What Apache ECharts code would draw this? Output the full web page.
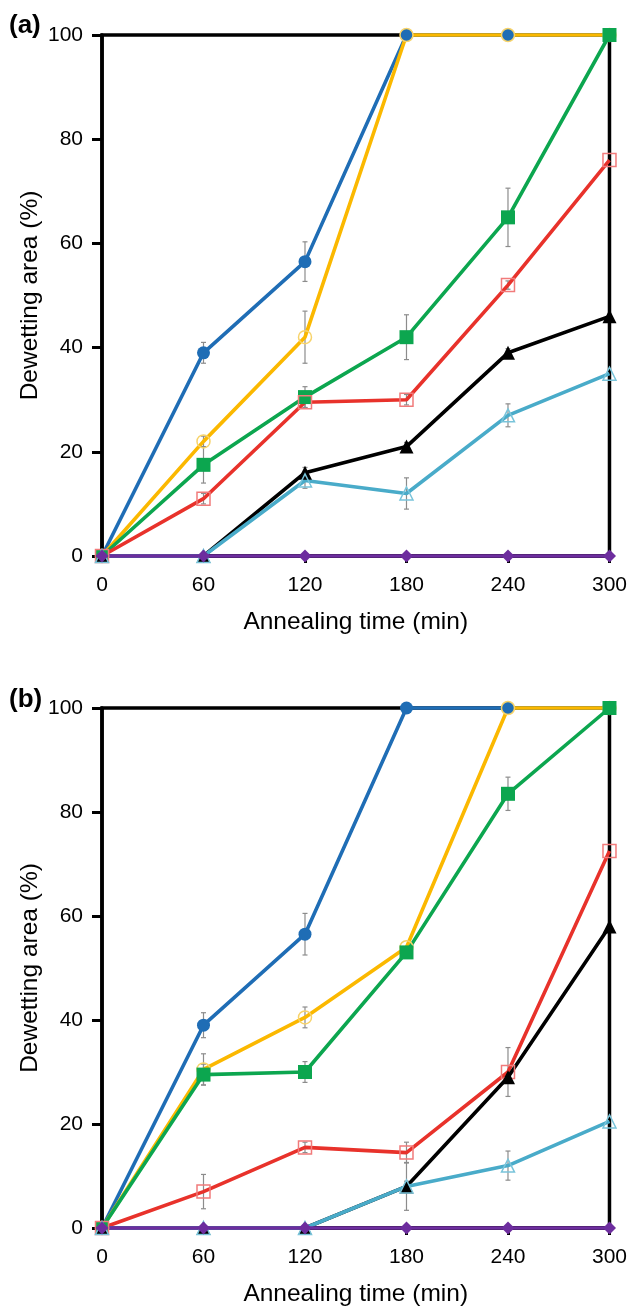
<!DOCTYPE html>
<html>
<head>
<meta charset="utf-8">
<script src="https://cdn.jsdelivr.net/npm/echarts@6/dist/echarts.min.js"></script>
<style>
  html, body { margin: 0; padding: 0; background: #ffffff; }
  #chart { width: 630px; height: 1309px; }
</style>
</head>
<body>
<div id="chart"></div>
<script>
// Annealing times (min)
const times = [0, 60, 120, 180, 240, 300];
const yTicks = [0, 20, 40, 60, 80, 100];

// Panel (a): dewetting area (%)
const aBlue   = [0, 39, 56.5, 100, 100, 100];
const aYellow = [0, 22, 42, 100, 100, 100];
const aGreen  = [0, 17.5, 30.5, 42, 65, 100];
const aRed    = [0, 11, 29.5, 30, 52, 76];
const aBlack  = [0, 0, 16, 21, 39, 46];
const aCyan   = [0, 0, 14.5, 12, 27, 35];
const aPurple = [0, 0, 0, 0, 0, 0];

// Panel (a): error bar half-lengths
const aBlueErr   = [0, 2, 3.8, 0, 0, 0];
const aYellowErr = [0, 1, 5, 0, 0, 0];
const aGreenErr  = [0, 3.5, 2, 4.3, 5.6, 0];
const aRedErr    = [0, 1, 1, 1, 0.8, 0];
const aBlackErr  = [0, 0, 1, 0.8, 0.8, 0];
const aCyanErr   = [0, 0, 1.5, 3, 2.2, 0];

// Panel (b): dewetting area (%)
const bBlue   = [0, 39, 56.5, 100, 100, 100];
const bYellow = [0, 30.5, 40.5, 54, 100, 100];
const bGreen  = [0, 29.5, 30, 53, 83.5, 100];
const bRed    = [0, 7, 15.5, 14.5, 30, 72.5];
const bBlack  = [0, 0, 0, 8, 29, 58];
const bCyan   = [0, 0, 0, 8, 12, 20.5];
const bPurple = [0, 0, 0, 0, 0, 0];

// Panel (b): error bar half-lengths
const bBlueErr   = [0, 2.4, 4, 0, 0, 0];
const bYellowErr = [0, 3, 2, 0, 0, 0];
const bGreenErr  = [0, 2, 2, 0, 3.2, 0];
const bRedErr    = [0, 3.3, 1, 2, 4.7, 0];
const bBlackErr  = [0, 0, 0, 4.6, 0, 0];
const bCyanErr   = [0, 0, 0, 1, 2.8, 0];

const FONT = 'Liberation Sans, Arial, Helvetica, sans-serif';

const styles = [
  { name: 'blue',   line: '#1f6db5', symbol: 'circle',   size: 13, fill: '#1f6db5', border: '#1f6db5', bw: 0 },
  { name: 'yellow', line: '#fbb800', symbol: 'circle',   size: 13, fill: 'rgba(255,255,255,0)', border: '#f7d36a', bw: 1.5 },
  { name: 'green',  line: '#0ca64f', symbol: 'rect',     size: 14, fill: '#0ca64f', border: '#0ca64f', bw: 0 },
  { name: 'red',    line: '#e8322b', symbol: 'rect',     size: 13, fill: 'rgba(255,255,255,0)', border: '#f17b7b', bw: 1.5 },
  { name: 'black',  line: '#000000', symbol: 'triangle', size: 14, fill: '#000000', border: '#000000', bw: 0 },
  { name: 'cyan',   line: '#49abc9', symbol: 'triangle', size: 13, fill: 'rgba(255,255,255,0)', border: '#79c4da', bw: 1.5 },
  { name: 'purple', line: '#6d2d9e', symbol: 'diamond',  size: 13, fill: '#6d2d9e', border: '#6d2d9e', bw: 0 }
];

const panelA = [aBlue, aYellow, aGreen, aRed, aBlack, aCyan, aPurple];
const panelAErr = [aBlueErr, aYellowErr, aGreenErr, aRedErr, aBlackErr, aCyanErr];
const panelB = [bBlue, bYellow, bGreen, bRed, bBlack, bCyan, bPurple];
const panelBErr = [bBlueErr, bYellowErr, bGreenErr, bRedErr, bBlackErr, bCyanErr];

function lineSeries(values, st, idx) {
  return {
    type: 'line',
    xAxisIndex: idx,
    yAxisIndex: idx,
    data: times.map((t, i) => [t, values[i]]),
    symbol: st.symbol,
    symbolSize: st.size,
    clip: false,
    z: 3,
    lineStyle: { color: st.line, width: 3.6 },
    itemStyle: { color: st.fill, borderColor: st.border, borderWidth: st.bw },
    emphasis: { disabled: true },
    animation: false
  };
}

function errorSeries(valueSets, errSets, idx) {
  const data = [];
  valueSets.forEach((vals, s) => {
    errSets[s].forEach((e, i) => {
      if (e > 0) data.push([times[i], vals[i], e]);
    });
  });
  return {
    type: 'custom',
    xAxisIndex: idx,
    yAxisIndex: idx,
    z: 2,
    clip: false,
    animation: false,
    data: data,
    renderItem: function (params, api) {
      const x = api.value(0), y = api.value(1), e = api.value(2);
      const top = api.coord([x, y + e]);
      const bot = api.coord([x, y - e]);
      const cw = 2.5;
      const st = { stroke: '#8c8c8c', lineWidth: 1.2 };
      return {
        type: 'group',
        children: [
          { type: 'line', shape: { x1: top[0], y1: top[1], x2: bot[0], y2: bot[1] }, style: st },
          { type: 'line', shape: { x1: top[0] - cw, y1: top[1], x2: top[0] + cw, y2: top[1] }, style: st },
          { type: 'line', shape: { x1: bot[0] - cw, y1: bot[1], x2: bot[0] + cw, y2: bot[1] }, style: st }
        ]
      };
    }
  };
}

function xAxisFor(idx) {
  return {
    type: 'value', gridIndex: idx, min: times[0], max: times[times.length - 1], interval: 60,
    axisLine: { show: true, lineStyle: { color: '#000', width: 3.5 } },
    axisTick: { show: true, length: 7, lineStyle: { color: '#000', width: 3 } },
    axisLabel: { color: '#000', fontSize: 21, fontFamily: FONT, margin: 19 },
    splitLine: { show: false },
    name: 'Annealing time (min)', nameLocation: 'middle', nameGap: 54, nameMoveOverlap: false,
    nameTextStyle: { color: '#000', fontSize: 24.5, fontFamily: FONT }
  };
}

function yAxisFor(idx) {
  return {
    type: 'value', gridIndex: idx, min: yTicks[0], max: yTicks[yTicks.length - 1], interval: 20,
    axisLine: { show: true, lineStyle: { color: '#000', width: 3.5 } },
    axisTick: { show: true, length: 10, lineStyle: { color: '#000', width: 3 } },
    axisLabel: { color: '#000', fontSize: 21, fontFamily: FONT, margin: 19 },
    splitLine: { show: false },
    name: 'Dewetting area (%)', nameLocation: 'middle', nameGap: 59, nameRotate: 90, nameMoveOverlap: false,
    nameTextStyle: { color: '#000', fontSize: 24.5, fontFamily: FONT }
  };
}

const series = [];
series.push(errorSeries(panelA.slice(0, 6), panelAErr, 0));
panelA.forEach((v, i) => series.push(lineSeries(v, styles[i], 0)));
series.push(errorSeries(panelB.slice(0, 6), panelBErr, 1));
panelB.forEach((v, i) => series.push(lineSeries(v, styles[i], 1)));

const chart = echarts.init(document.getElementById('chart'), null, { renderer: 'canvas' });
chart.setOption({
  backgroundColor: '#ffffff',
  animation: false,
  grid: [
    { left: 102, top: 35, width: 511, height: 521, show: true, borderColor: '#000', borderWidth: 3.5, backgroundColor: 'transparent' },
    { left: 102, top: 708, width: 511, height: 520, show: true, borderColor: '#000', borderWidth: 3.5, backgroundColor: 'transparent' }
  ],
  xAxis: [xAxisFor(0), xAxisFor(1)],
  yAxis: [yAxisFor(0), yAxisFor(1)],
  graphic: [
    { type: 'text', left: 9, top: 13, style: { text: '(a)', fontSize: 26, fontWeight: 'bold', fontFamily: FONT, fill: '#000' } },
    { type: 'text', left: 9, top: 687, style: { text: '(b)', fontSize: 26, fontWeight: 'bold', fontFamily: FONT, fill: '#000' } }
  ],
  series: series
});
</script>
</body>
</html>
